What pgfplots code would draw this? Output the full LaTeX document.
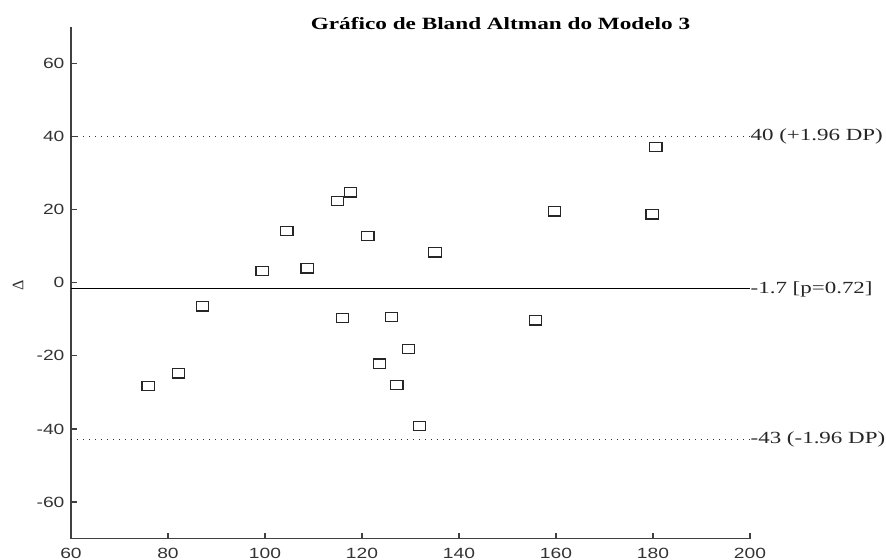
\documentclass[border=0pt]{standalone}
\usepackage{pgfplots}
\pgfplotsset{compat=1.18}
\usepackage{fontspec}
\setmainfont{Liberation Serif}
\newfontfamily\ticksans{Liberation Sans}
\begin{document}
\begin{tikzpicture}
\path[use as bounding box] (-35.5pt,-10.2pt) rectangle (407.5pt,269.3pt);
\begin{axis}[
  scale only axis,
  width=339.5pt, height=255.9pt,
  xmin=60, xmax=200, ymin=-70, ymax=70,
  axis lines=left,
  axis line style={-, black!75, line width=0.7pt},
  xtick={60,80,...,200},
  ytick={-60,-40,...,60},
  tick align=inside,
  major tick length=3pt,
  tick style={black!75, line width=0.6pt},
  /pgf/number format/assume math mode=true,
  tick label style={font=\ticksans\fontsize{7.4}{8}\selectfont, text=black!80, xscale=1.3},
  yticklabel style={xshift=1pt},
  xticklabel style={yshift=-1pt},
  clip=false,
]
\addplot[black, line width=0.5pt] coordinates {(60,-1.7) (200,-1.7)}
  node[pos=1, anchor=west, inner sep=0pt, xscale=1.35, font=\fontsize{8.5}{9}\selectfont, text=black!85] {-1.7 [p=0.72]};
\addplot[black!80, line width=0.5pt, dash pattern=on 0.5pt off 2.5pt] coordinates {(60,40) (200,40)}
  node[pos=1, anchor=west, inner sep=0pt, xscale=1.35, font=\fontsize{8.5}{9}\selectfont, text=black!85] {40 (+1.96 DP)};
\addplot[black!80, line width=0.5pt, dash pattern=on 0.5pt off 2.5pt] coordinates {(60,-43) (200,-43)}
  node[pos=1, anchor=west, inner sep=0pt, xscale=1.35, font=\fontsize{8.5}{9}\selectfont, text=black!85] {-43 (-1.96 DP)};
\addplot[only marks, mark=square, mark size=2.3pt, mark options={xscale=1.33, line width=0.6pt, black!85}] coordinates {
(75.9,-28.3) (82.2,-24.8) (87.1,-6.5) (99.4,3.2) (104.5,14.1) (108.7,3.9)
(114.9,22.3) (117.6,24.7) (116.0,-9.7) (121.2,12.7) (123.6,-22.1) (126.1,-9.4)
(127.2,-28.0) (129.6,-18.2) (131.8,-39.2) (135.05,8.3) (155.8,-10.3)
(159.65,19.5) (179.8,18.7) (180.6,37.2)
};
\end{axis}
\node[anchor=base, xscale=1.35, font=\bfseries\fontsize{8.6}{10}\selectfont] at (214.75pt,254.8pt) {Gráfico de Bland Altman do Modelo 3};
\node[rotate=90, font=\fontsize{8}{9}\selectfont, text=black!80] at (-26.5pt,126.8pt) {Δ};
\end{tikzpicture}
\end{document}
